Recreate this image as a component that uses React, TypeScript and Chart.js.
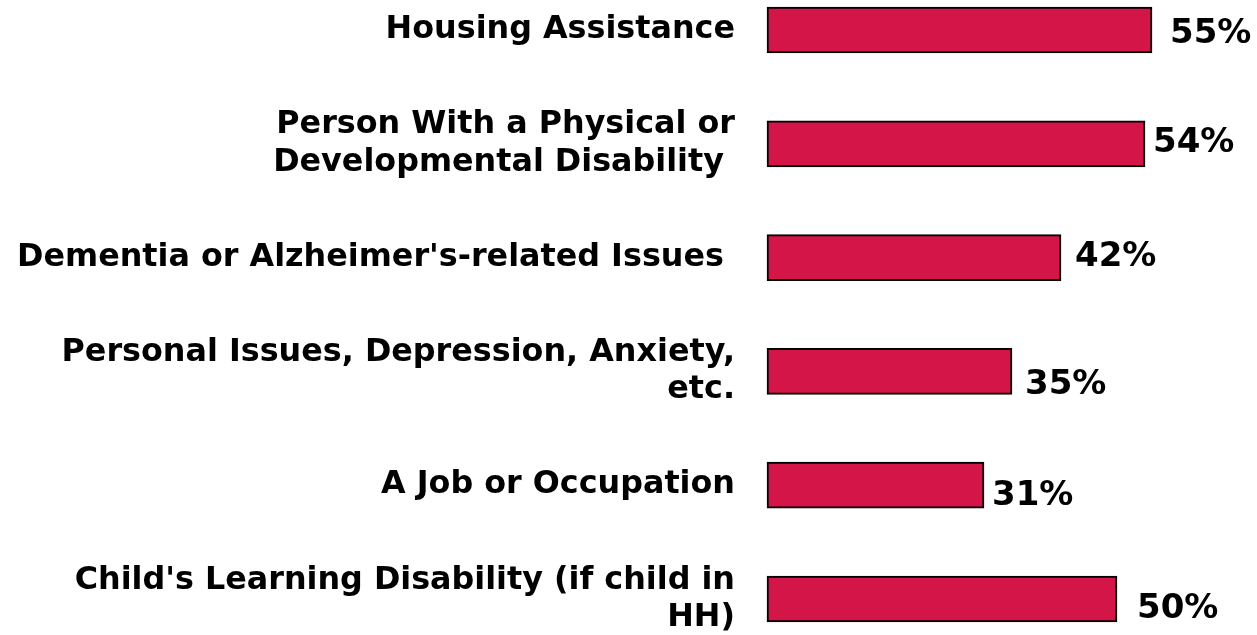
import React, { useEffect, useRef } from "react";
import { Chart, registerables } from "chart.js";

Chart.register(...registerables);

const categories: (string | string[])[] = [
  "Housing Assistance",
  ["Person With a Physical or", "Developmental Disability "],
  "Dementia or Alzheimer's-related Issues ",
  ["Personal Issues, Depression, Anxiety,", "etc."],
  "A Job or Occupation",
  ["Child's Learning Disability (if child in", "HH)"],
];
const values: number[] = [55, 54, 42, 35, 31, 50];
const valueLabels: string[] = ["55%", "54%", "42%", "35%", "31%", "50%"];

// small nudges of the value labels relative to the end of each bar
const labelDx: number[] = [18, 8, 14, 13, 8, 20];
const labelDy: number[] = [1, -4, -4, 10, 7, 7];

const BAR_COLOR = "#D31548";
const FONT = "'DejaVu Sans', Verdana, sans-serif";
const VALUE_SIZE = 34;

const valueLabelPlugin = {
  id: "valueLabels",
  afterDatasetsDraw(chart: any) {
    const ctx = chart.ctx;
    const meta = chart.getDatasetMeta(0);
    ctx.save();
    ctx.font = `bold ${VALUE_SIZE}px ${FONT}`;
    ctx.fillStyle = "#000";
    ctx.textAlign = "left";
    ctx.textBaseline = "alphabetic";
    meta.data.forEach((bar: any, i: number) => {
      const x = bar.x + labelDx[i];
      const y = bar.y + labelDy[i] + (VALUE_SIZE * 0.729) / 2;
      ctx.fillText(valueLabels[i], x, y);
    });
    ctx.restore();
  },
};

export default function App() {
  const ref = useRef<HTMLCanvasElement | null>(null);
  useEffect(() => {
    if (!ref.current) return;
    const chart = new Chart(ref.current, {
      type: "bar",
      data: {
        labels: categories,
        datasets: [
          {
            data: values,
            backgroundColor: BAR_COLOR,
            borderColor: "#000",
            borderWidth: 2,
            borderSkipped: false,
            barThickness: 46,
            clip: false as any,
          },
        ],
      },
      options: {
        indexAxis: "y",
        animation: false,
        responsive: false,
        layout: { padding: { top: 30, bottom: 36, left: 0, right: 0 } },
        plugins: {
          legend: { display: false },
          tooltip: { enabled: false },
        },
        scales: {
          x: {
            display: false,
            min: 0,
            max: 70,
          },
          y: {
            offset: false,
            grid: { display: false, drawTicks: false },
            border: { display: false },
            afterFit: (scale: any) => {
              scale.width = 767;
              scale.paddingTop = 0;
              scale.paddingBottom = 0;
            },
            ticks: {
              padding: 32,
              color: "#000",
              font: { family: FONT, size: 31.8, weight: "bold", lineHeight: 1.17 },
              autoSkip: false,
            },
          },
        },
      },
      plugins: [valueLabelPlugin],
    });
    return () => chart.destroy();
  }, []);
  return (
    <div style={{ position: "absolute", left: 0, top: 0, width: 1257, height: 635, background: "#fff" }}>
      <canvas ref={ref} width={1257} height={635} style={{ display: "block" }} />
    </div>
  );
}
